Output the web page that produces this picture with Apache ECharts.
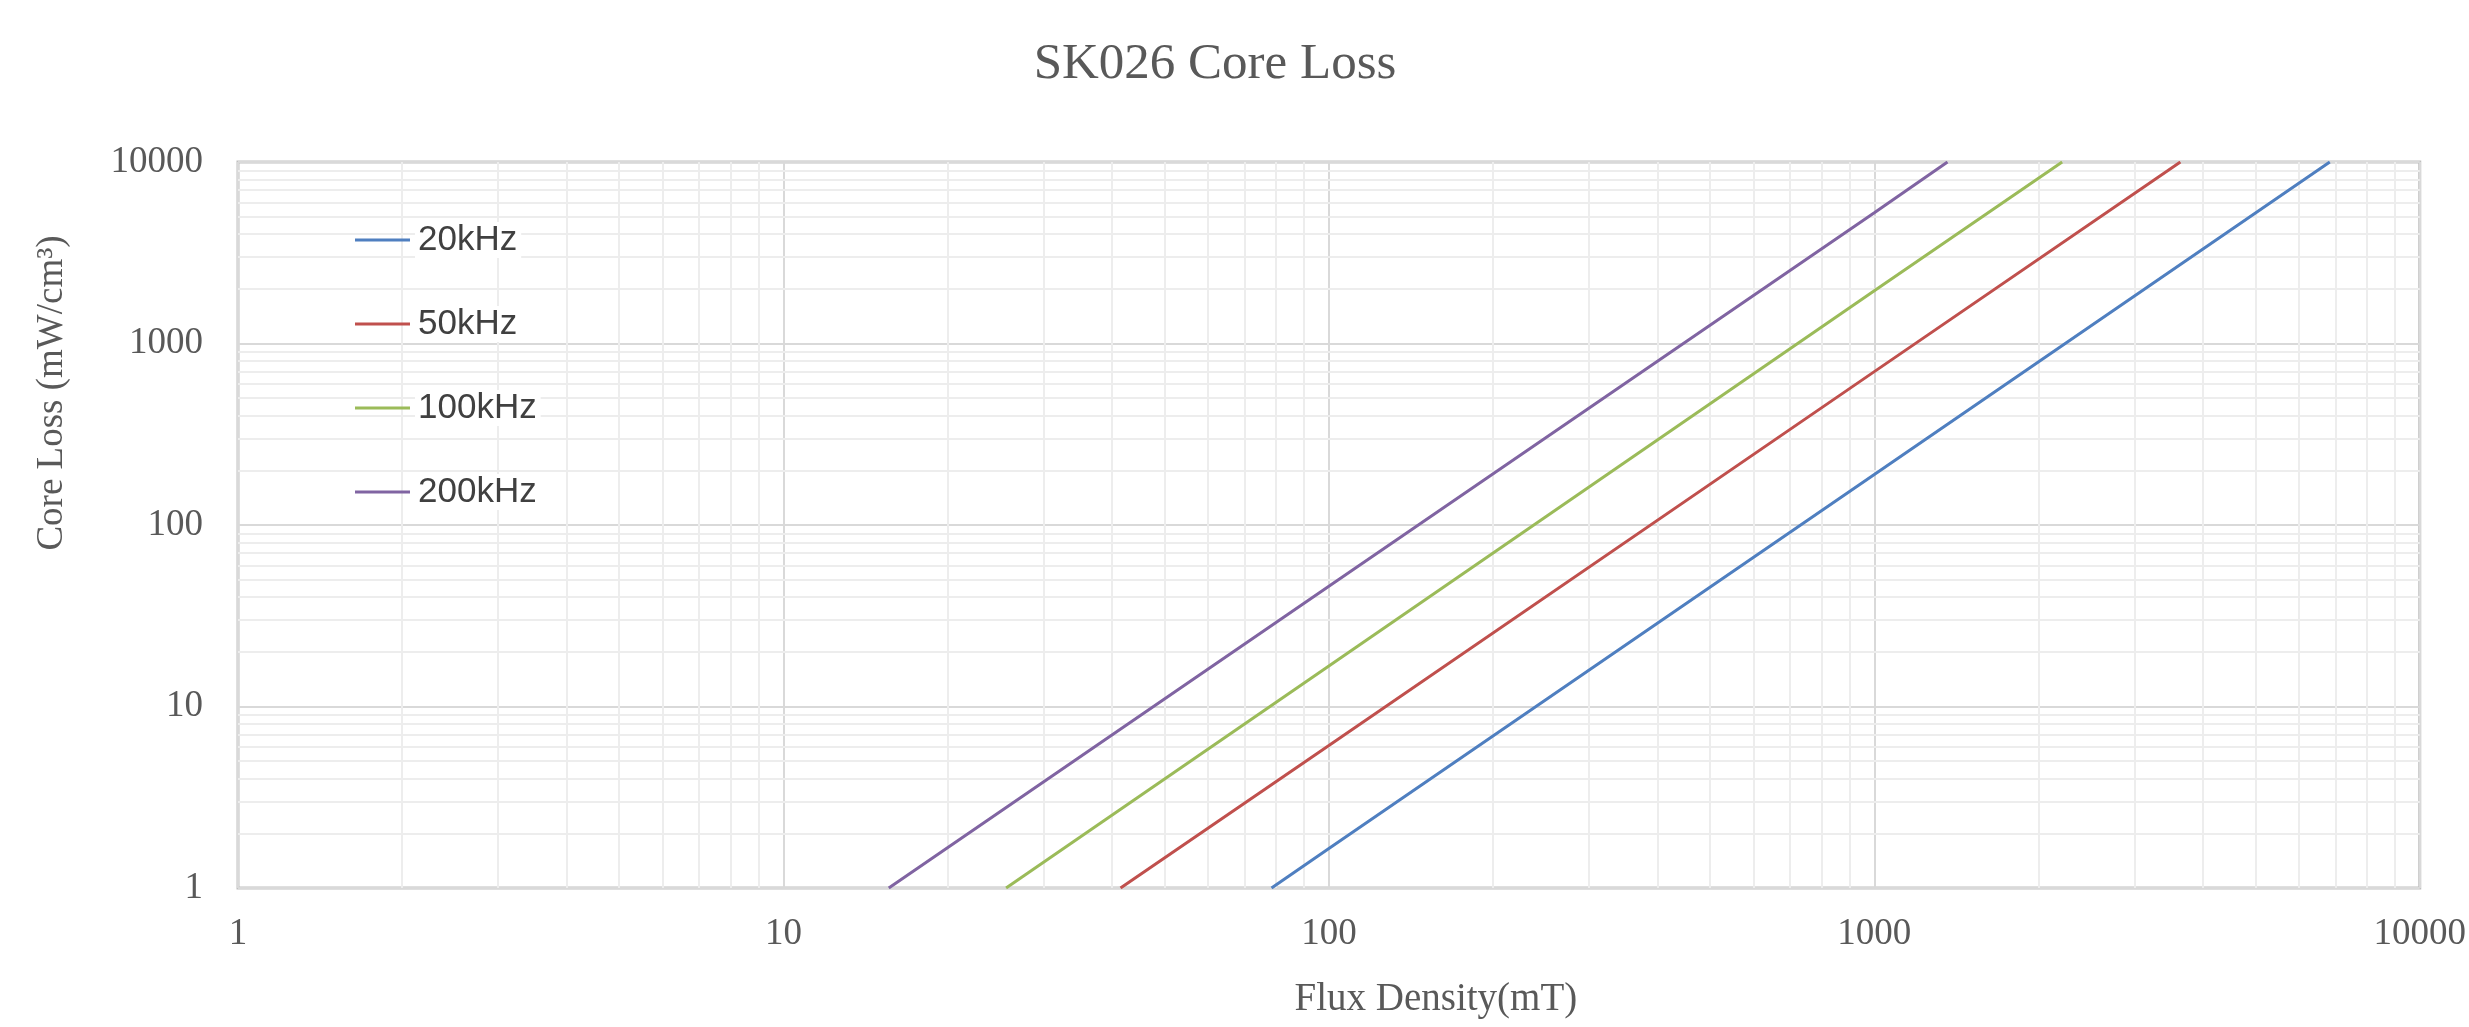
<!DOCTYPE html>
<html>
<head>
<meta charset="utf-8">
<script src="https://cdn.jsdelivr.net/npm/echarts@6/dist/echarts.min.js"></script>
<style>
html,body{margin:0;padding:0;background:#fff;}
#chart{width:2469px;height:1027px;}
</style>
</head>
<body>
<div id="chart"></div>
<script>
// Data (Flux density in mT, core loss in mW/cm3)
const seriesNames = ['20kHz', '50kHz', '100kHz', '200kHz'];
const flux20k = [78.5, 100, 1000, 6840];
const loss20k = [1, 1.65, 190, 10000];
const flux50k = [41.5, 100, 1000, 3640];
const loss50k = [1, 6.1, 700, 10000];
const flux100k = [25.6, 100, 1000, 2210];
const loss100k = [1, 16.7, 1950, 10000];
const flux200k = [15.6, 100, 1000, 1362];
const loss200k = [1, 46, 5250, 10000];
const xTicks = [1, 10, 100, 1000, 10000];
const yTicks = [1, 10, 100, 1000, 10000];
const colors = ['#4F7FC0', '#C0504D', '#9BBB59', '#8064A2'];

// minor grid values: 2..9 within each decade
function minorValues(ticks) {
  const out = [];
  for (let i = 0; i < ticks.length - 1; i++) {
    for (let m = 2; m <= 9; m++) out.push(ticks[i] * m);
  }
  return out;
}
const minorX = minorValues(xTicks);
const minorY = minorValues(yTicks);

function pairs(xs, ys) { return xs.map((x, i) => [x, ys[i]]); }
const allFlux = [flux20k, flux50k, flux100k, flux200k];
const allLoss = [loss20k, loss50k, loss100k, loss200k];

const serif = '"Liberation Serif", "Times New Roman", serif';
const textGrey = '#595959';

const chart = echarts.init(document.getElementById('chart'));
const series = seriesNames.map((name, i) => ({
  name: name,
  type: 'line',
  data: pairs(allFlux[i], allLoss[i]),
  showSymbol: false,
  symbol: 'none',
  lineStyle: { color: colors[i], width: 3 },
  itemStyle: { color: colors[i] },
  z: 5,
  animation: false
}));
series.unshift({
  name: 'minorGrid',
  type: 'line',
  data: [],
  z: 1,
  silent: true,
  animation: false,
  markLine: {
    z: 1,
    silent: true,
    animation: false,
    symbol: 'none',
    label: { show: false },
    lineStyle: { color: '#ededed', width: 2, type: 'solid' },
    emphasis: { disabled: true },
    data: minorX.map(v => ({ xAxis: v })).concat(minorY.map(v => ({ yAxis: v })))
  }
});

chart.setOption({
  backgroundColor: '#ffffff',
  animation: false,
  title: {
    text: 'SK026 Core Loss',
    left: 1210,
    textAlign: 'center',
    top: 34,
    textStyle: { fontFamily: serif, fontSize: 51, fontWeight: 'normal', color: textGrey }
  },
  legend: {
    data: seriesNames,
    orient: 'vertical',
    left: 350,
    top: 217,
    icon: 'rect',
    itemWidth: 55,
    itemHeight: 3,
    itemGap: 48,
    z: 4,
    textStyle: {
      fontFamily: '"Liberation Sans", Arial, sans-serif', fontSize: 35, lineHeight: 36, color: '#404040',
      backgroundColor: '#ffffff', padding: [0, 4, 0, 3]
    }
  },
  grid: {
    left: 238, right: 46, top: 162, bottom: 139,
    show: true, borderColor: '#c0c0c0', borderWidth: 3, backgroundColor: 'transparent'
  },
  xAxis: {
    type: 'log',
    logBase: 10,
    min: xTicks[0],
    max: xTicks[xTicks.length - 1],
    name: 'Flux Density(mT)',
    nameLocation: 'middle',
    nameGap: 92,
    nameTextStyle: { fontFamily: serif, fontSize: 39, color: textGrey, padding: [0, 0, 0, 214] },
    axisLine: { show: false },
    axisTick: { show: false },
    axisLabel: {
      fontFamily: serif, fontSize: 37, color: textGrey, margin: 28,
      formatter: v => String(Math.round(v))
    },
    splitLine: { show: true, lineStyle: { color: '#d9d9d9', width: 2 } },
    minorTick: { show: false },
    minorSplitLine: { show: false }
  },
  yAxis: {
    type: 'log',
    logBase: 10,
    min: yTicks[0],
    max: yTicks[yTicks.length - 1],
    name: 'Core Loss (mW/cm³)',
    nameLocation: 'middle',
    nameGap: 167,
    nameTextStyle: { fontFamily: serif, fontSize: 37, color: textGrey, padding: [0, 0, 0, 264] },
    axisLine: { show: false },
    axisTick: { show: false },
    axisLabel: {
      fontFamily: serif, fontSize: 37, color: textGrey, margin: 35,
      formatter: v => String(Math.round(v))
    },
    splitLine: { show: true, lineStyle: { color: '#d9d9d9', width: 2 } },
    minorTick: { show: false },
    minorSplitLine: { show: false }
  },
  series: series
});
</script>
</body>
</html>
